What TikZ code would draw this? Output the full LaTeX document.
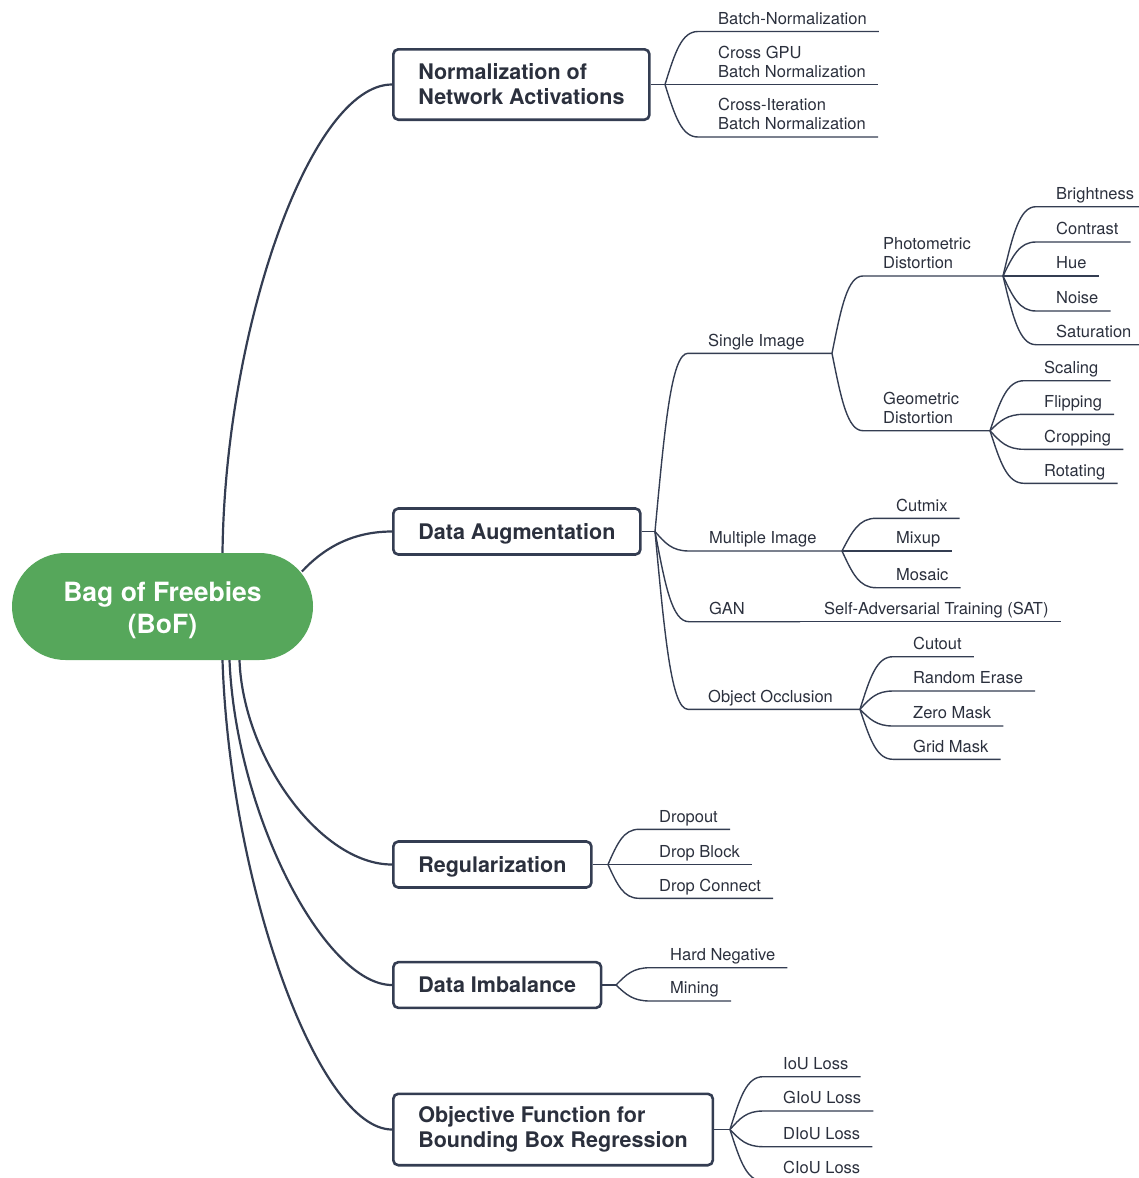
\documentclass[tikz,border=0pt]{standalone}
\usepackage{fontspec}
\setmainfont{TeX Gyre Heros}
\usetikzlibrary{calc}
\definecolor{ink}{HTML}{343D52}
\definecolor{txt}{HTML}{2B303D}
\definecolor{rootgreen}{HTML}{56A75B}
\tikzset{
  rootnode/.style={rectangle, rounded corners=53.5pt, fill=rootgreen, text=white,
    minimum width=301pt, minimum height=107pt, inner sep=0pt, align=center,
    font=\fontsize{26.5}{32}\selectfont\bfseries},
  topic/.style={rectangle, rounded corners=5pt, draw=ink, line width=2.6pt, fill=white,
    text=txt, anchor=west, inner xsep=25pt, inner ysep=0pt, align=left,
    font=\fontsize{21.5}{25}\selectfont\bfseries},
  oneline/.style={text height=15.5pt, text depth=0pt},
  leaf/.style={anchor=south west, inner xsep=0pt, inner ysep=1.2pt, align=left,
    text=txt, font=\fontsize{16.5}{19.3}\selectfont},
  trunk/.style={draw=ink, line width=2.2pt},
  twig/.style={draw=ink, line width=1.4pt},
  branch/.style={to path={let \p1=(\tikztostart), \p2=(\tikztotarget) in
    .. controls ({\x1+0.3*(\x2-\x1)},{\y1+0.6*(\y2-\y1)}) and ({\x2-0.5*(\x2-\x1)},\y2)
    .. (\tikztotarget) \tikztonodes}},
}
\begin{document}
\begin{tikzpicture}[x=1pt,y=-1pt]
\useasboundingbox (0,0) rectangle (1139,1178);

% central topic and main branches
\node[rootnode] (root) at (162.5,606.5) {\rule{0pt}{27.5pt}Bag of Freebies\\(BoF)};
\node[topic, minimum height=70.4pt] (na) at (392,84.5) {Normalization of\\Network Activations};
\node[topic, oneline, minimum height=46pt] (nb) at (392,531.5) {Data Augmentation};
\node[topic, oneline, minimum height=46pt] (nc) at (392,864.5) {Regularization};
\node[topic, oneline, minimum height=45.7pt] (nd) at (392,985) {Data Imbalance};
\node[topic, minimum height=71.4pt] (ne) at (392,1129.5) {Objective Function for\\Bounding Box Regression};

% forks
\coordinate (fa) at (665,84.5);
\coordinate (fb) at (655,531.5);
\coordinate (fb1) at (832,353.3);
\coordinate (fb11) at (1003,276);
\coordinate (fb12) at (990,430.7);
\coordinate (fb2) at (842,551);
\coordinate (fb3) at (800,621.7);
\coordinate (fb4) at (860,709.3);
\coordinate (fc) at (608,864.5);
\coordinate (fd) at (616,985);
\coordinate (fe) at (730,1129.5);

% normalization
\node[leaf] (a1) at (718,31.5) {Batch-Normalization\strut};
\node[leaf] (a2) at (718,84.5) {Cross GPU\\Batch Normalization\strut};
\node[leaf] (a3) at (718,137) {Cross-Iteration\\Batch Normalization\strut};

% data augmentation
\node[leaf] (b1) at (708,353.3) {Single Image\strut};
\node[leaf] (b2) at (709,551) {Multiple Image\strut};
\node[leaf] (b3) at (709,621.7) {GAN\strut};
\node[leaf] (b4) at (708,709.3) {Object Occlusion\strut};

\node[leaf] (b11) at (883,276) {Photometric\\Distortion\strut};
\node[leaf] (b12) at (883,430.7) {Geometric\\Distortion\strut};

\node[leaf] (b111) at (1056,206.7) {Brightness\strut};
\node[leaf] (b112) at (1056,242) {Contrast\strut};
\node[leaf] (b113) at (1056,276) {Hue\strut};
\node[leaf] (b114) at (1056,311) {Noise\strut};
\node[leaf] (b115) at (1056,344.7) {Saturation\strut};

\node[leaf] (b121) at (1044,380.7) {Scaling\strut};
\node[leaf] (b122) at (1044,414.3) {Flipping\strut};
\node[leaf] (b123) at (1044,449.3) {Cropping\strut};
\node[leaf] (b124) at (1044,483.3) {Rotating\strut};

\node[leaf] (b21) at (896,518.3) {Cutmix\strut};
\node[leaf] (b22) at (896,551) {Mixup\strut};
\node[leaf] (b23) at (896,587.7) {Mosaic\strut};

\node[leaf] (b31) at (824,621.7) {Self-Adversarial Training (SAT)\strut};

\node[leaf] (b41) at (913,656.7) {Cutout\strut};
\node[leaf] (b42) at (913,691) {Random Erase\strut};
\node[leaf] (b43) at (913,726) {Zero Mask\strut};
\node[leaf] (b44) at (913,759.3) {Grid Mask\strut};

% regularization
\node[leaf] (c1) at (659,829.3) {Dropout\strut};
\node[leaf] (c2) at (659,864.5) {Drop Block\strut};
\node[leaf] (c3) at (659,898.3) {Drop Connect\strut};

% data imbalance
\node[leaf] (d1) at (670,967.7) {Hard Negative\strut};
\node[leaf] (d2) at (670,1001) {Mining\strut};

% bounding box regression losses
\node[leaf] (e1) at (783,1076.7) {IoU Loss\strut};
\node[leaf] (e2) at (783,1111) {GIoU Loss\strut};
\node[leaf] (e3) at (783,1146.7) {DIoU Loss\strut};
\node[leaf] (e4) at (783,1181) {CIoU Loss\strut};

% root connectors
\draw[trunk] ([xshift=60pt]root.north) .. controls (225,330) and (310,84.5) .. (na.west);
\draw[trunk] ([shift={(-11.3,18.7)}]root.north east) .. controls (322,550) and (350,531.5) .. (nb.west);
\draw[trunk] ([xshift=77pt]root.south) .. controls (243,757) and (320,864.5) .. (nc.west);
\draw[trunk] ([xshift=67pt]root.south) .. controls (236,815) and (325,985) .. (nd.west);
\draw[trunk] ([xshift=60pt]root.south) .. controls (230,885) and (318,1129.5) .. (ne.west);

% stubs from topics to forks
\draw[twig] (na.east) -- (fa);
\draw[twig] (nb.east) -- (fb);
\draw[twig] (nc.east) -- (fc);
\draw[twig] (nd.east) -- (fd);
\draw[twig] (ne.east) -- (fe);

% leaves with underlines
\foreach \f/\n in {fa/a1, fa/a2, fa/a3,
    fb11/b111, fb11/b112, fb11/b113, fb11/b114, fb11/b115,
    fb12/b121, fb12/b122, fb12/b123, fb12/b124,
    fb2/b21, fb2/b22, fb2/b23, fb3/b31,
    fb4/b41, fb4/b42, fb4/b43, fb4/b44,
    fc/c1, fc/c2, fc/c3, fd/d1, fd/d2,
    fe/e1, fe/e2, fe/e3, fe/e4}
  \draw[twig] (\f) to[branch] ([xshift=-20pt]\n.south west) -- ([xshift=12pt]\n.south east);

% intermediate branches running on to the next fork
\draw[twig] (fb) to[branch] ([xshift=-20pt]b1.south west) -- (fb1);
\draw[twig] (fb) to[branch] ([xshift=-20pt]b2.south west) -- (fb2);
\draw[twig] (fb) to[branch] ([xshift=-20pt]b3.south west) -- (fb3);
\draw[twig] (fb) to[branch] ([xshift=-20pt]b4.south west) -- (fb4);
\draw[twig] (fb1) to[branch] ([xshift=-20pt]b11.south west) -- (fb11);
\draw[twig] (fb1) to[branch] ([xshift=-20pt]b12.south west) -- (fb12);
\end{tikzpicture}
\end{document}
